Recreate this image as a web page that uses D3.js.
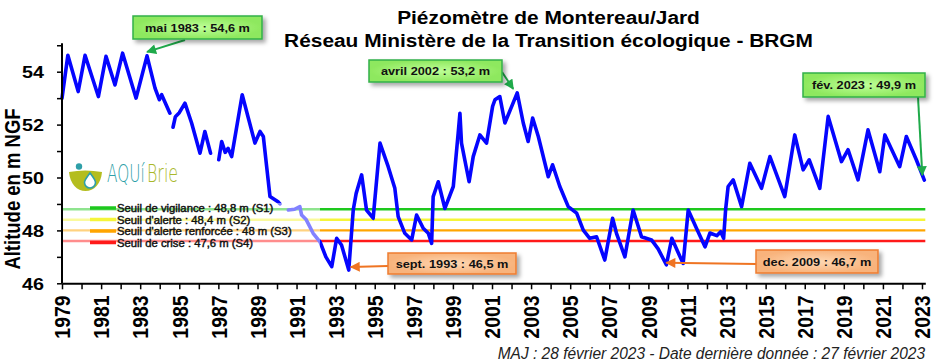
<!DOCTYPE html>
<html>
<head>
<meta charset="utf-8">
<script src="https://cdn.jsdelivr.net/npm/d3@7"></script>
<style>
body { margin: 0; background: #fff; }
svg { display: block; font-family: "Liberation Sans", Arial, sans-serif; }
</style>
</head>
<body>
<script>
// niveaux (année décimale / m NGF), null = lacune
var years = [1979.0,1979.3,1979.83,1980.18,1980.86,1981.25,1981.71,1982.1,1982.79,1983.35,
  1983.76,1983.98,1984.1,1984.52,1984.6,1984.68,1984.8,1985.0,1985.29,1985.63,
  1986.06,1986.31,1986.6,1986.8,1987.02,1987.17,1987.35,1987.5,1987.68,1988.22,
  1988.55,1988.87,1989.13,1989.3,1989.47,1989.64,1990.07,1990.15,1990.4,1990.58,
  1990.9,1991.17,1991.26,1991.5,1991.85,1992.2,1992.5,1992.8,1993.05,1993.3,
  1993.67,1993.9,1994.05,1994.33,1994.58,1994.92,1995.27,1995.69,1996.03,1996.2,
  1996.54,1996.89,1997.14,1997.48,1997.74,1997.91,1997.99,1998.25,1998.59,1999.02,
  1999.27,1999.36,1999.44,1999.83,2000.04,2000.38,2000.72,2001.03,2001.15,2001.4,
  2001.66,2002.29,2002.6,2002.85,2003.08,2003.37,2003.88,2004.1,2004.47,2004.9,
  2005.33,2005.67,2006.0,2006.35,2006.77,2007.17,2007.37,2007.8,2008.22,2008.65,
  2009.16,2009.5,2009.92,2010.2,2010.5,2010.78,2011.04,2011.45,2011.9,2012.15,
  2012.5,2012.7,2012.85,2012.95,2013.08,2013.34,2013.77,2014.19,2014.79,2015.22,
  2015.98,2016.49,2016.92,2017.23,2017.77,2018.2,2018.88,2019.22,2019.73,2020.24,
  2020.84,2021.1,2021.86,2022.2,2022.71,2023.12];
var levels = [53.0,54.62,53.25,54.62,53.06,54.58,53.5,54.7,53.0,54.6,
  53.38,52.94,53.13,52.43,null,51.9,52.3,52.45,52.81,52.06,
  50.92,51.74,50.92,null,50.67,51.36,50.95,51.1,50.79,53.13,
  52.2,51.3,51.74,51.55,50.41,49.28,49.07,49.0,null,48.77,
  48.8,48.9,48.58,48.4,47.89,47.57,47.0,46.63,47.7,47.45,
  46.5,48.77,49.4,50.1,48.77,48.46,51.3,50.41,49.59,48.52,
  47.89,47.64,48.58,48.08,47.89,47.51,49.28,49.84,48.83,49.66,
  51.68,52.43,51.3,49.84,50.79,51.61,51.3,52.69,52.94,53.06,
  52.06,53.2,52.06,51.36,52.25,51.55,50.03,50.48,49.66,48.9,
  48.65,48.01,47.7,47.76,46.88,48.46,47.89,47.0,48.77,47.76,
  47.64,47.3,46.7,47.7,47.2,46.75,48.77,48.1,47.38,47.9,
  47.8,47.95,47.7,48.77,49.66,49.91,48.9,50.54,49.59,50.79,
  49.28,51.61,50.29,50.67,49.59,52.31,50.6,51.05,49.91,51.8,
  50.22,51.61,50.41,51.55,50.67,49.9];

var seuilNoms = ["Seuil de vigilance : 48,8 m (S1)", "Seuil d'alerte : 48,4 m (S2)",
  "Seuil d'alerte renforcée : 48 m (S3)", "Seuil de crise : 47,6 m (S4)"];
var seuilValeurs = [48.8, 48.4, 48, 47.6];

var annotTextes = ["mai 1983 : 54,6 m", "avril 2002 : 53,2 m", "fév. 2023 : 49,9 m",
  "sept. 1993 : 46,5 m", "dec. 2009 : 46,7 m"];
var annotDates = [1983.35, 2002.29, 2023.12, 1993.67, 2009.92];
var annotValeurs = [54.6, 53.2, 49.9, 46.5, 46.7];

var yTicks = [46, 47, 48, 49, 50, 51, 52, 53, 54, 55];

// mise en forme
var seuilCouleurs = ["#1ec81e", "#f5f53a", "#ffa500", "#ff1a1a"];
// boîte [x, y, l, h], départ de la flèche, décalage de la pointe, type
var annotBoites = [
  { box: [133, 16, 129, 23], from: [185, 40], off: [0, -4], kind: "vert" },
  { box: [369, 60, 133, 22], from: [502, 72], off: [-4, -4], kind: "vert" },
  { box: [803, 73, 122, 24], from: [918, 97], off: [-2, -5], kind: "vert" },
  { box: [388, 253, 128, 21], from: [388, 266], off: [2, -3], kind: "orange" },
  { box: [756, 250, 122, 23], from: [756, 264], off: [0, -2], kind: "orange" }
];
var SX = 1.16; // l'image d'origine est étirée en largeur

function decToDate(t) {
  var y = Math.floor(t);
  var s = new Date(y, 0, 1), e = new Date(y + 1, 0, 1);
  return new Date(+s + (t - y) * (e - s));
}

var data = years.map(function(t, i) { return { date: decToDate(t), v: levels[i] }; });

var svg = d3.select("body").append("svg").attr("width", 940).attr("height", 364);
var defs = svg.append("defs");

var x = d3.scaleTime()
  .domain([decToDate(1979), decToDate(2023.17)])
  .range([62, 62 + 44.17 * 19.545]);
var y = d3.scaleLinear().domain([46, 55]).range([283.3, 283.3 - 9 * 26.45]);

// ombre des étiquettes
var f = defs.append("filter").attr("id", "ombre").attr("x", "-20%").attr("y", "-40%")
  .attr("width", "150%").attr("height", "200%");
f.append("feDropShadow").attr("dx", 3).attr("dy", 3).attr("stdDeviation", 2)
  .attr("flood-color", "#000").attr("flood-opacity", 0.35);

var grads = { vert: ["#bfff98", "#8ee85e"], orange: ["#fed8b4", "#f8b37c"] };
Object.keys(grads).forEach(function(k) {
  var g = defs.append("radialGradient").attr("id", "g-" + k);
  g.append("stop").attr("offset", "0%").attr("stop-color", grads[k][0]);
  g.append("stop").attr("offset", "100%").attr("stop-color", grads[k][1]);
});
var arrowCol = { vert: "#1faa4a", orange: "#ef7422" };
var borderCol = { vert: "#33b04a", orange: "#ee7d31" };
Object.keys(arrowCol).forEach(function(k) {
  defs.append("marker").attr("id", "fl-" + k)
    .attr("viewBox", "0 0 10 10").attr("refX", 9).attr("refY", 5)
    .attr("markerWidth", 11).attr("markerHeight", 10)
    .attr("markerUnits", "userSpaceOnUse").attr("orient", "auto")
    .append("path").attr("d", "M0,0L10,5L0,10z").attr("fill", arrowCol[k]);
});

// seuils
var xEnd = x.range()[1];
svg.selectAll(".seuil").data(seuilValeurs).enter().append("line")
  .attr("x1", 62).attr("x2", xEnd)
  .attr("y1", function(d) { return y(d); }).attr("y2", function(d) { return y(d); })
  .attr("stroke", function(d, i) { return seuilCouleurs[i]; })
  .attr("stroke-width", 2.4);

// chronique
var line = d3.line()
  .defined(function(d) { return d.v != null; })
  .x(function(d) { return x(d.date); })
  .y(function(d) { return y(d.v); });
svg.append("path").datum(data).attr("d", line)
  .attr("fill", "none").attr("stroke", "#0505ff")
  .attr("stroke-width", 3.6).attr("stroke-linejoin", "round").attr("stroke-linecap", "round");

// légende (fond semi-transparent)
svg.append("rect").attr("x", 62).attr("y", 203).attr("width", 258).attr("height", 45)
  .attr("fill", "#fff").attr("opacity", 0.5);
seuilNoms.forEach(function(n, i) {
  var by = 212 + i * 11.5;
  svg.append("line").attr("x1", 90).attr("x2", 116).attr("y1", by - 4).attr("y2", by - 4)
    .attr("stroke", seuilCouleurs[i]).attr("stroke-width", 3.5);
  svg.append("text").text(n)
    .attr("transform", "translate(117," + by + ") scale(1.13,1)")
    .attr("font-size", 10).attr("fill", "#111")
    .attr("stroke", "#111").attr("stroke-width", 0.4);
});

// axes
var yAxis = d3.axisLeft(y).tickValues(yTicks).tickSize(5).tickSizeOuter(0)
  .tickFormat(function(d) { return d % 2 === 0 ? d : ""; });
var gy = svg.append("g").attr("transform", "translate(62,0)").call(yAxis);
gy.select(".domain").attr("stroke-width", 2).attr("d", "M0," + (y(55) - 2) + "V" + y(46));
gy.selectAll(".tick line").attr("stroke-width", 1.5);
gy.selectAll(".tick text").attr("x", 0).attr("dy", "0.35em")
  .attr("transform", "translate(-18,0) scale(" + SX + ",1)")
  .attr("font-size", 17).attr("font-weight", "bold").attr("fill", "#000")
  .attr("font-family", "Liberation Sans, Arial, sans-serif");

var xAxis = d3.axisBottom(x)
  .tickValues(d3.timeYear.range(new Date(1979, 0, 1), new Date(2023, 0, 2)))
  .tickSize(6).tickSizeOuter(0)
  .tickFormat(function(d) { var yr = d.getFullYear(); return yr % 2 === 1 ? yr : ""; });
var gx = svg.append("g").attr("transform", "translate(0," + y(46) + ")").call(xAxis);
gx.select(".domain").attr("stroke-width", 2);
gx.selectAll(".tick line").attr("stroke-width", 1.5);
gx.selectAll(".tick text").attr("x", -12).attr("y", 0).attr("dy", "0.36em")
  .attr("transform", "scale(1.1,1) rotate(-90)").style("text-anchor", "end")
  .attr("font-size", 19.5).attr("font-weight", "bold").attr("fill", "#000")
  .attr("font-family", "Liberation Sans, Arial, sans-serif");

// titre de l'axe
svg.append("text").text("Altitude en m NGF")
  .attr("transform", "translate(19.5,189) scale(1.16,1) rotate(-90)")
  .attr("text-anchor", "middle").attr("font-size", 18.5).attr("font-weight", "bold");

// titre
svg.append("text").text("Piézomètre de Montereau/Jard")
  .attr("transform", "translate(548.5,24) scale(" + SX + ",1)")
  .attr("text-anchor", "middle").attr("font-size", 18).attr("font-weight", "bold");
svg.append("text").text("Réseau Ministère de la Transition écologique - BRGM")
  .attr("transform", "translate(548.5,46.5) scale(" + SX + ",1)")
  .attr("text-anchor", "middle").attr("font-size", 18).attr("font-weight", "bold");

// pied
svg.append("text").text("MAJ : 28 février 2023 - Date dernière donnée : 27 février 2023")
  .attr("transform", "translate(925,359) scale(0.94,1)")
  .attr("text-anchor", "end").attr("font-size", 16.5).attr("font-style", "italic")
  .attr("fill", "#222");

// étiquettes des extrêmes
annotTextes.forEach(function(t, i) {
  var a = annotBoites[i];
  var tx = x(decToDate(annotDates[i])) + a.off[0];
  var ty = y(annotValeurs[i]) + a.off[1];
  svg.append("line").attr("x1", a.from[0]).attr("y1", a.from[1])
    .attr("x2", tx).attr("y2", ty)
    .attr("stroke", arrowCol[a.kind]).attr("stroke-width", 2)
    .attr("marker-end", "url(#fl-" + a.kind + ")");
  svg.append("rect").attr("x", a.box[0]).attr("y", a.box[1])
    .attr("width", a.box[2]).attr("height", a.box[3])
    .attr("fill", "url(#g-" + a.kind + ")").attr("stroke", borderCol[a.kind])
    .attr("stroke-width", 1.5).attr("filter", "url(#ombre)");
  svg.append("text").text(t)
    .attr("transform", "translate(" + (a.box[0] + a.box[2] / 2) + "," + (a.box[1] + a.box[3] / 2 + 4) + ") scale(" + SX + ",1)")
    .attr("text-anchor", "middle").attr("font-size", 11).attr("font-weight", "bold")
    .attr("fill", "#111");
});

// logo AQUiBrie
var logo = svg.append("g");
logo.append("circle").attr("cx", 79).attr("cy", 166.5).attr("r", 3.2).attr("fill", "#2e9fa8");
logo.append("path")
  .attr("d", "M69,172 Q85,169 102,172 C101,184 94,191 85.5,191 C77,191 70,184 69,172Z")
  .attr("fill", "#b4bd1f");
logo.append("path")
  .attr("d", "M90,173 C93,177 95.5,180 95.5,182.5 A5.5,5.5 0 0 1 84.5,182.5 C84.5,180 87,177 90,173Z")
  .attr("fill", "#fff").attr("stroke", "#2e9fa8").attr("stroke-width", 1.6);
logo.append("text").text("AQUí").attr("transform", "translate(107,182) scale(0.64,1)")
  .attr("font-family", "DejaVu Sans, sans-serif").attr("font-weight", 200)
  .attr("font-size", 24).attr("fill", "#2e9fa8");
logo.append("text").text("Brie").attr("transform", "translate(147,182) scale(0.66,1)")
  .attr("font-family", "DejaVu Sans, sans-serif").attr("font-weight", 200)
  .attr("font-size", 24).attr("fill", "#a9b82a");
</script>
</body>
</html>
